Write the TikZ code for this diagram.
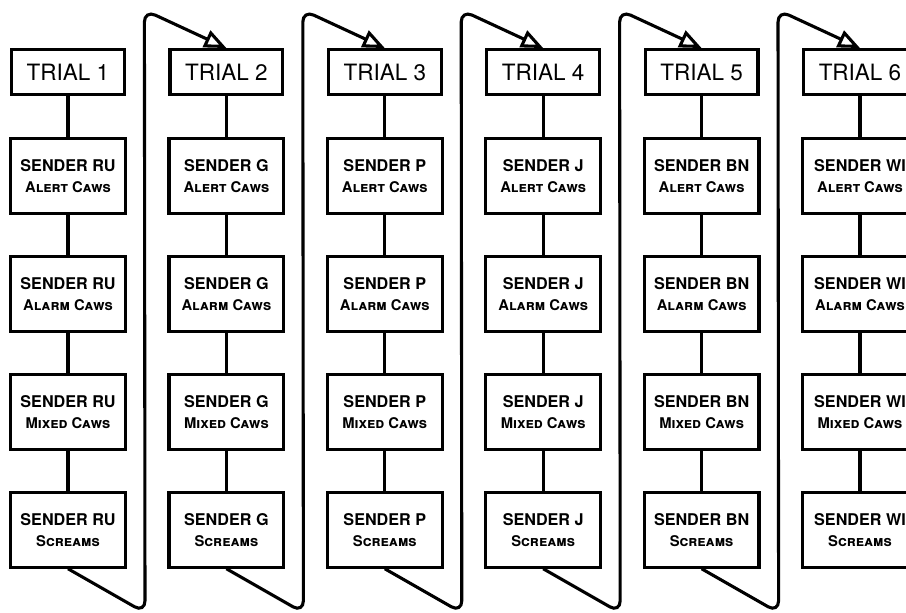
\documentclass[tikz,border=0pt]{standalone}
\usepackage{fontspec}
\setmainfont{TeX Gyre Heros}
\usetikzlibrary{arrows.meta, calc}
\newcommand{\callkind}[1]{{\fontsize{10.5}{13}\selectfont\textsc{#1}}}

\begin{document}
\begin{tikzpicture}[node distance={29.5mm},
        trial/.style = {draw, line width=2.2pt, minimum width=28.2mm, minimum height=11.2mm, font=\fontsize{16}{18}\selectfont},
        sender/.style = {draw, line width=2.2pt, minimum width=28.7mm, minimum height=18.6mm, align=center, font=\fontsize{11.5}{14.5}\selectfont\bfseries},
        link/.style = {line width=2.2pt},
        nexttrial/.style = {line width=2.2pt, rounded corners=3mm, -{Triangle[open, length=5.5mm, width=4.5mm]}}]
            \useasboundingbox (-1.7,1.8) rectangle (20.95,-13.525);

            \node[trial] (T1) {TRIAL 1};
            \node[trial] (T2) [right of=T1, node distance=39.6mm] {TRIAL 2};
            \node[trial] (T3) [right of=T2, node distance=39.6mm] {TRIAL 3};
            \node[trial] (T4) [right of=T3, node distance=39.6mm] {TRIAL 4};
            \node[trial] (T5) [right of=T4, node distance=39.6mm] {TRIAL 5};
            \node[trial] (T6) [right of=T5, node distance=39.6mm] {TRIAL 6};

            \node[sender] (A1) [below of=T1, node distance=26mm] {SENDER RU\\\callkind{Alert Caws}};
            \node[sender] (L1) [below of=A1] {SENDER RU\\\callkind{Alarm Caws}};
            \node[sender] (M1) [below of=L1] {SENDER RU\\\callkind{Mixed Caws}};
            \node[sender] (S1) [below of=M1] {SENDER RU\\\callkind{Screams}};

            \node[sender] (A2) [below of=T2, node distance=26mm] {SENDER G\\\callkind{Alert Caws}};
            \node[sender] (L2) [below of=A2] {SENDER G\\\callkind{Alarm Caws}};
            \node[sender] (M2) [below of=L2] {SENDER G\\\callkind{Mixed Caws}};
            \node[sender] (S2) [below of=M2] {SENDER G\\\callkind{Screams}};

            \node[sender] (A3) [below of=T3, node distance=26mm] {SENDER P\\\callkind{Alert Caws}};
            \node[sender] (L3) [below of=A3] {SENDER P\\\callkind{Alarm Caws}};
            \node[sender] (M3) [below of=L3] {SENDER P\\\callkind{Mixed Caws}};
            \node[sender] (S3) [below of=M3] {SENDER P\\\callkind{Screams}};

            \node[sender] (A4) [below of=T4, node distance=26mm] {SENDER J\\\callkind{Alert Caws}};
            \node[sender] (L4) [below of=A4] {SENDER J\\\callkind{Alarm Caws}};
            \node[sender] (M4) [below of=L4] {SENDER J\\\callkind{Mixed Caws}};
            \node[sender] (S4) [below of=M4] {SENDER J\\\callkind{Screams}};

            \node[sender] (A5) [below of=T5, node distance=26mm] {SENDER BN\\\callkind{Alert Caws}};
            \node[sender] (L5) [below of=A5] {SENDER BN\\\callkind{Alarm Caws}};
            \node[sender] (M5) [below of=L5] {SENDER BN\\\callkind{Mixed Caws}};
            \node[sender] (S5) [below of=M5] {SENDER BN\\\callkind{Screams}};

            \node[sender] (A6) [below of=T6, node distance=26mm] {SENDER WI\\\callkind{Alert Caws}};
            \node[sender] (L6) [below of=A6] {SENDER WI\\\callkind{Alarm Caws}};
            \node[sender] (M6) [below of=L6] {SENDER WI\\\callkind{Mixed Caws}};
            \node[sender] (S6) [below of=M6] {SENDER WI\\\callkind{Screams}};

            \path[link] (T1) edge (A1) (A1) edge (L1) (L1) edge (M1) (M1) edge (S1);
            \path[link] (T2) edge (A2) (A2) edge (L2) (L2) edge (M2) (M2) edge (S2);
            \path[link] (T3) edge (A3) (A3) edge (L3) (L3) edge (M3) (M3) edge (S3);
            \path[link] (T4) edge (A4) (A4) edge (L4) (L4) edge (M4) (M4) edge (S4);
            \path[link] (T5) edge (A5) (A5) edge (L5) (L5) edge (M5) (M5) edge (S5);
            \path[link] (T6) edge (A6) (A6) edge (L6) (L6) edge (M6) (M6) edge (S6);

            % from the last box of one trial round to the top of the next
            \draw[nexttrial] (S1.south) -- ($(S1.south)+(1.925,-1.1)$) -- ($(T2.north)+(-2.05,0.95)$) -- (T2.north);
            \draw[nexttrial] (S2.south) -- ($(S2.south)+(1.925,-1.1)$) -- ($(T3.north)+(-2.05,0.95)$) -- (T3.north);
            \draw[nexttrial] (S3.south) -- ($(S3.south)+(1.925,-1.1)$) -- ($(T4.north)+(-2.05,0.95)$) -- (T4.north);
            \draw[nexttrial] (S4.south) -- ($(S4.south)+(1.925,-1.1)$) -- ($(T5.north)+(-2.05,0.95)$) -- (T5.north);
            \draw[nexttrial] (S5.south) -- ($(S5.south)+(1.925,-1.1)$) -- ($(T6.north)+(-2.05,0.95)$) -- (T6.north);
        \end{tikzpicture}
\end{document}
